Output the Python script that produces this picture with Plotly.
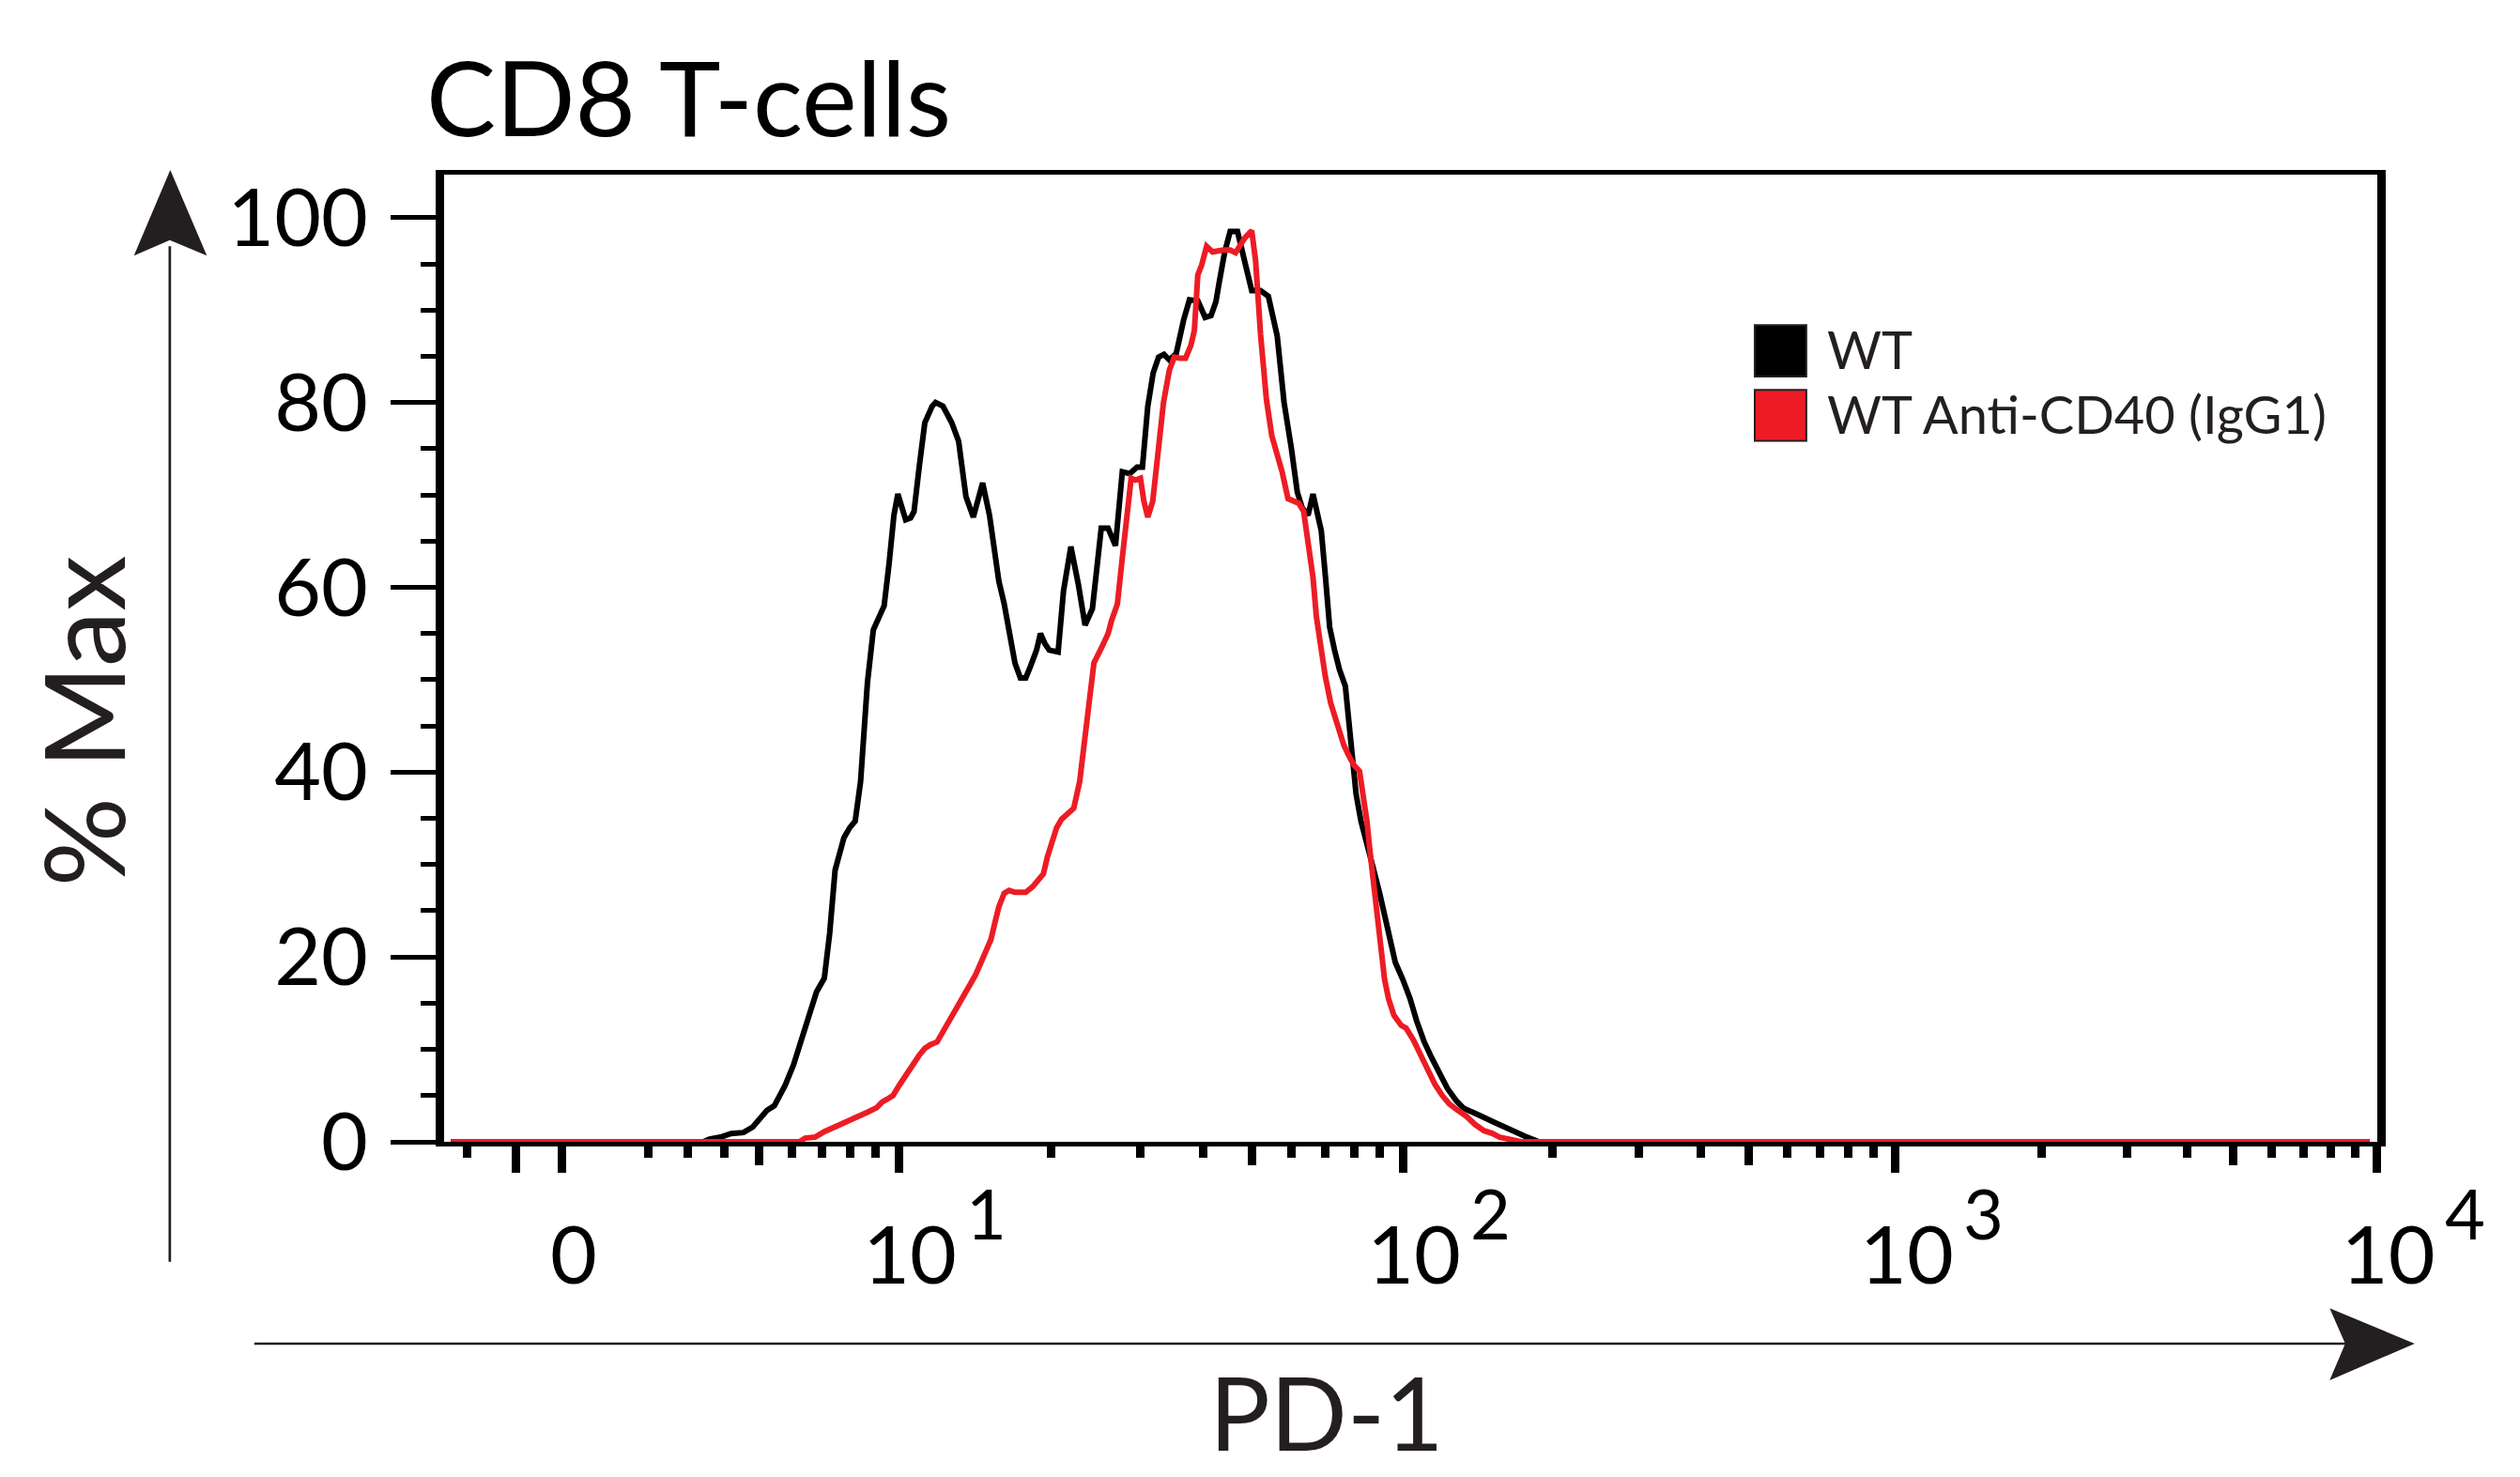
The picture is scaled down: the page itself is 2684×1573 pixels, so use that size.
import numpy as np
import plotly.graph_objects as go

# ---------------- data ----------------
# Histogram positions are in display-channel units of the biexponential
# PD-1 axis (1 = 10^1, 2 = 10^2, 3 = 10^3, 4 = 10^4).
wt_channel = [0.070, 0.585, 0.598, 0.620, 0.642, 0.667, 0.686, 0.715, 0.730, 0.752,
              0.769, 0.788, 0.803, 0.816, 0.832, 0.843, 0.854, 0.862, 0.872, 0.884,
              0.895, 0.906, 0.913, 0.920, 0.932, 0.942, 0.954, 0.964, 0.974, 0.982,
              0.991, 0.998, 1.008, 1.015, 1.026, 1.037, 1.052, 1.059, 1.074, 1.081,
              1.092, 1.106, 1.115, 1.121, 1.136, 1.155, 1.169, 1.180, 1.188, 1.199,
              1.209, 1.221, 1.232, 1.243, 1.253, 1.265, 1.273, 1.282, 1.291, 1.309,
              1.320, 1.335, 1.350, 1.364, 1.379, 1.397, 1.411, 1.426, 1.440, 1.455,
              1.470, 1.481, 1.492, 1.503, 1.514, 1.525, 1.536, 1.550, 1.565, 1.577,
              1.594, 1.609, 1.621, 1.631, 1.638, 1.649, 1.660, 1.675, 1.685, 1.697,
              1.704, 1.722, 1.738, 1.756, 1.770, 1.785, 1.797, 1.807, 1.819, 1.829,
              1.839, 1.846, 1.854, 1.863, 1.873, 1.883, 1.895, 1.902, 1.909, 1.917,
              1.927, 1.942, 1.953, 1.965, 1.975, 1.986, 1.997, 2.012, 2.027, 2.041,
              2.056, 2.071, 2.085, 2.103, 2.122, 2.137, 2.159, 2.181, 2.203, 2.261,
              2.290, 3.985]
wt_pct_max = [0, 0, 0.3, 0.5, 0.9, 1.0, 1.6, 3.4, 3.9, 6.1,
              8.3, 11.5, 14.0, 16.2, 17.7, 22.6, 29.4, 31.1, 32.9, 34.0,
              34.7, 39.0, 44.0, 49.7, 55.4, 56.7, 58.0, 62.5, 67.8, 70.1,
              68.6, 67.3, 67.5, 68.2, 73.2, 77.8, 79.6, 80.0, 79.6, 79.0,
              77.8, 75.8, 71.8, 69.8, 67.6, 71.3, 67.8, 63.6, 60.7, 58.2,
              55.0, 51.8, 50.2, 50.2, 51.5, 53.2, 55.0, 53.9, 53.2, 53.0,
              59.6, 64.4, 60.4, 55.9, 57.7, 66.4, 66.4, 64.5, 72.5, 72.3,
              73.0, 73.0, 79.6, 83.2, 84.9, 85.2, 84.6, 85.3, 88.9, 91.1,
              91.0, 89.2, 89.4, 90.9, 93.1, 96.3, 98.5, 98.5, 96.3, 93.5,
              92.1, 92.1, 91.5, 87.2, 80.0, 75.0, 70.3, 68.6, 67.8, 70.1,
              67.8, 66.1, 61.4, 55.7, 53.2, 51.1, 49.3, 45.4, 41.5, 37.6,
              34.7, 31.9, 29.4, 26.9, 24.4, 21.5, 19.4, 17.6, 15.5, 13.0,
              10.8, 9.1, 7.6, 5.8, 4.4, 3.6, 3.1, 2.6, 2.0, 0.6,
              0, 0]

cd40_channel = [0.070, 0.781, 0.793, 0.813, 0.832, 0.854, 0.876, 0.898, 0.920, 0.939,
                0.950, 0.960, 0.972, 0.986, 1.001, 1.013, 1.026, 1.037, 1.048, 1.062,
                1.074, 1.081, 1.092, 1.100, 1.111, 1.118, 1.130, 1.140, 1.150, 1.162,
                1.172, 1.180, 1.188, 1.199, 1.209, 1.221, 1.243, 1.257, 1.268, 1.279,
                1.287, 1.297, 1.306, 1.316, 1.331, 1.341, 1.353, 1.360, 1.367, 1.375,
                1.382, 1.397, 1.411, 1.418, 1.430, 1.440, 1.451, 1.458, 1.467, 1.477,
                1.484, 1.492, 1.502, 1.514, 1.524, 1.536, 1.546, 1.558, 1.569, 1.580,
                1.587, 1.594, 1.602, 1.612, 1.624, 1.646, 1.660, 1.671, 1.682, 1.690,
                1.704, 1.712, 1.722, 1.734, 1.745, 1.756, 1.766, 1.778, 1.789, 1.800,
                1.810, 1.821, 1.829, 1.836, 1.845, 1.854, 1.865, 1.880, 1.892, 1.902,
                1.912, 1.924, 1.931, 1.939, 1.946, 1.953, 1.961, 1.968, 1.975, 1.983,
                1.994, 2.009, 2.019, 2.034, 2.049, 2.063, 2.078, 2.093, 2.107, 2.122,
                2.141, 2.159, 2.178, 2.195, 2.210, 2.254, 3.985]
cd40_pct_max = [0, 0, 0.4, 0.5, 1.1, 1.6, 2.1, 2.6, 3.2, 3.7,
                4.3, 4.6, 5.0, 6.2, 7.4, 8.6, 9.4, 10.1, 10.5, 10.8,
                11.9, 12.6, 13.7, 14.4, 15.3, 16.2, 17.1, 18.0, 19.2, 20.6,
                21.9, 23.7, 25.4, 26.9, 27.2, 27.0, 27.0, 27.6, 28.4, 29.0,
                30.8, 32.6, 34.0, 34.9, 35.6, 36.1, 39.0, 42.2, 45.4, 49.0,
                51.8, 53.4, 55.0, 56.4, 58.2, 63.2, 68.2, 71.8, 71.6, 71.8,
                69.3, 67.6, 69.3, 74.6, 80.0, 83.5, 84.9, 84.8, 84.8, 86.2,
                87.8, 93.8, 94.9, 96.9, 96.3, 96.5, 96.5, 96.2, 97.1, 97.8,
                98.6, 95.3, 87.4, 80.3, 76.4, 74.6, 72.5, 69.6, 69.3, 69.1,
                68.2, 64.6, 61.1, 56.8, 53.2, 50.4, 47.5, 44.7, 42.9, 41.8,
                40.8, 40.1, 37.9, 34.7, 31.1, 27.6, 23.7, 20.5, 17.6, 15.5,
                13.7, 12.6, 12.3, 11.0, 9.4, 7.6, 6.2, 5.0, 4.1, 3.5,
                2.8, 1.9, 1.2, 0.9, 0.5, 0, 0]

series_names = ["WT", "WT Anti-CD40 (IgG1)"]
series_colors = ["#000000", "#ed1c24"]

y_tick_values = [0, 20, 40, 60, 80, 100]
x_major_values = [-1, 0, 10, 100, 1000, 10000]
x_major_text = ["", "0", "10", "10", "10", "10"]
x_mid_values = [5, 50, 500, 5000]
x_minor_values = [-2, 2, 3, 4, 6, 7, 8, 9] + [m * 10 ** k for k in (1, 2, 3)
                                               for m in (2, 3, 4, 6, 7, 8, 9)]
x_exponents = [1, 2, 3, 4]


# ---------------- biexponential display transform ----------------
def to_channel(v):
    """Map a PD-1 intensity onto the display-channel scale of the axis."""
    v = np.asarray(v, dtype=float)
    L = np.log10(np.maximum(v, 10.0))
    hi = -0.0682 + 1.06325 * L - 0.01155 * L ** 2
    s = 10.0 - v
    lo = 0.9835 - 0.04517 * s - 0.002343 * s ** 2
    return np.where(v >= 10, hi, lo)


# ---------------- geometry helpers (screen pixels -> paper) ----------------
OFF = 8                      # page body margin in front of the figure
SW, SH = 2684, 1573          # screen size
W, H = SW - OFF, SH - OFF    # figure size
ML, MT = 472.75 - OFF, 185.65 - OFF
MR, MB = SW - 2532.45, SH - 1215.95
PW, PH = W - ML - MR, H - MT - MB


def xp(sx):
    return (sx - OFF - ML) / PW


def yp(sy):
    return (H - MB - (sy - OFF)) / PH


INK = "#231f20"
FONT = "Lato"

fig = go.Figure()
fig.add_trace(go.Scatter(x=wt_channel, y=wt_pct_max, mode="lines", name=series_names[0],
                         line=dict(color=series_colors[0], width=6), showlegend=False))
fig.add_trace(go.Scatter(x=cd40_channel, y=cd40_pct_max, mode="lines", name=series_names[1],
                         line=dict(color=series_colors[1], width=6), showlegend=False))

x_end = float(to_channel(10000)) + 0.0005
x_range = [x_end - PW / 522.2, x_end]

fig.update_layout(
    width=W, height=H,
    margin=dict(l=ML, r=MR, t=MT, b=MB, pad=0),
    paper_bgcolor="white", plot_bgcolor="white",
    font=dict(family=FONT, color="black"),
    showlegend=False,
    xaxis=dict(
        range=x_range, showgrid=False, zeroline=False,
        showline=True, linewidth=4.7, linecolor="black", mirror=True,
        ticks="outside", tickmode="array",
        tickvals=to_channel(x_major_values).tolist(), ticktext=x_major_text,
        ticklen=28, tickwidth=8.7, tickcolor="black",
        ticklabelstandoff=15, ticklabelshift=12,
        tickfont=dict(family=FONT, size=86, color="black"),
        minor=dict(tickmode="array", tickvals=to_channel(x_minor_values).tolist(),
                   ticks="outside", ticklen=12, tickwidth=8.7, tickcolor="black"),
    ),
    xaxis2=dict(
        overlaying="x", matches="x", anchor="y", side="bottom",
        range=x_range, showgrid=False, zeroline=False,
        showline=True, linewidth=4.7, linecolor="black",
        ticks="outside", tickmode="array",
        tickvals=to_channel(x_mid_values).tolist(), showticklabels=False,
        ticklen=20, tickwidth=8.7, tickcolor="black",
    ),
    yaxis=dict(
        range=[0, (H - MB - MT) / 9.845], showgrid=False, zeroline=False,
        showline=True, linewidth=8.7, linecolor="black", mirror=True,
        ticks="outside", tickmode="array", tickvals=y_tick_values,
        ticklen=48, tickwidth=4.7, tickcolor="black", ticklabelstandoff=7,
        tickfont=dict(family=FONT, size=86, color="black"),
        minor=dict(dtick=5, ticks="outside", ticklen=16, tickwidth=4.7, tickcolor="black"),
    ),
)
# invisible trace to activate the mid-tick axis
fig.add_trace(go.Scatter(x=[None], y=[None], xaxis="x2", yaxis="y", showlegend=False,
                         hoverinfo="skip"))

annotations = []
# exponents of the decade labels
for k in x_exponents:
    annotations.append(dict(text=str(k), xref="x", x=float(to_channel(10 ** k)), xshift=70,
                            xanchor="left", yref="paper", y=yp(1291), yanchor="middle",
                            showarrow=False, font=dict(family=FONT, size=74, color="black")))
# title & axis titles
annotations.append(dict(text="CD8 T-cells", xref="paper", x=xp(452), xanchor="left",
                        yref="paper", y=yp(101.4), yanchor="middle", showarrow=False,
                        font=dict(family=FONT, size=111, color="black")))
annotations.append(dict(text="% Max", xref="paper", x=xp(87), xanchor="center",
                        yref="paper", y=yp(768), yanchor="middle", textangle=-90,
                        showarrow=False, font=dict(family=FONT, size=119, color=INK)))
annotations.append(dict(text="PD-1", xref="paper", x=xp(1413), xanchor="center",
                        yref="paper", y=yp(1570), yanchor="bottom", showarrow=False,
                        font=dict(family=FONT, size=108, color=INK)))
# legend
legend_rows = [(346, 400.7), (415, 469.3)]
shapes = []
for name, color, (top, bot) in zip(series_names, series_colors, legend_rows):
    shapes.append(dict(type="rect", xref="paper", yref="paper",
                       x0=xp(1869.2), x1=xp(1924.1), y0=yp(bot), y1=yp(top),
                       fillcolor=color, line=dict(color=INK, width=2)))
    annotations.append(dict(text=name, xref="paper", x=xp(1944), xanchor="left",
                            yref="paper", y=yp((top + bot) / 2 - 2), yanchor="middle",
                            showarrow=False, font=dict(family=FONT, size=56, color=INK)))

# axis arrows
shapes.append(dict(type="line", xref="paper", yref="paper", x0=xp(180.5), x1=xp(180.5),
                   y0=yp(1343.7), y1=yp(262), line=dict(color=INK, width=2.7)))
shapes.append(dict(type="path", xref="paper", yref="paper", fillcolor=INK, line=dict(width=0),
                   path=f"M{xp(181)},{yp(180.7)} L{xp(220)},{yp(271.9)} L{xp(180.5)},{yp(255.3)} "
                        f"L{xp(142.3)},{yp(271.9)} Z"))
shapes.append(dict(type="line", xref="paper", yref="paper", x0=xp(270.5), x1=xp(2505),
                   y0=yp(1431), y1=yp(1431), line=dict(color=INK, width=2.7)))
shapes.append(dict(type="path", xref="paper", yref="paper", fillcolor=INK, line=dict(width=0),
                   path=f"M{xp(2572.3)},{yp(1431)} L{xp(2481.7)},{yp(1393.3)} L{xp(2498.3)},{yp(1431)} "
                        f"L{xp(2481.7)},{yp(1470)} Z"))

fig.update_layout(annotations=annotations, shapes=shapes)
fig.write_html("out.html", config={"displayModeBar": False})
